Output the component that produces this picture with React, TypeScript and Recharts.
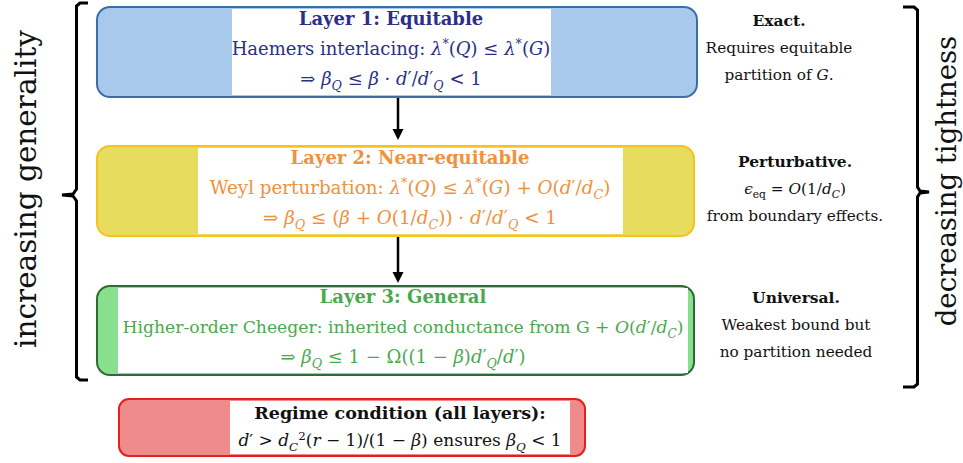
import React from "react";
import {
  ComposedChart,
  XAxis,
  YAxis,
  ReferenceArea,
  ReferenceLine,
  Scatter,
  Line,
} from "recharts";

// a segment is [text, style]: "" roman, "i" italic, "_" italic sub, "_r" roman sub, "^" sup
type Seg = [string, string?];

const W = 963;
const H = 463;
const SERIF = "DejaVu Serif, Liberation Serif, serif";

const layerNames = ["Layer 1: Equitable", "Layer 2: Near-equitable", "Layer 3: General"];
const layerInk = ["#2c2f86", "#f0913c", "#4ca84f"];
const layerFill = ["#a8c9eb", "#e7dc5e", "#88e08e"];
const layerEdge = ["#3c6ea6", "#f6c21c", "#2f6a30"];
const layerTop = [7, 146, 286];
const layerBottom = [97, 236, 375];
const layerLeft = [97, 97, 97];
const layerRight = [697, 694, 694];
const panelLeft = [232, 198, 118];
const panelRight = [551, 623, 688];

const layerLines: Seg[][][] = [
  [
    [["Haemers interlacing: "], ["λ", "i"], ["*", "^"], ["("], ["Q", "i"], [") ≤ "], ["λ", "i"], ["*", "^"], ["("], ["G", "i"], [")"]],
    [["⇒ "], ["β", "i"], ["Q", "_"], [" ≤ "], ["β", "i"], [" · "], ["d", "i"], ["′/"], ["d", "i"], ["′"], ["Q", "_"], [" < 1"]],
  ],
  [
    [["Weyl perturbation: "], ["λ", "i"], ["*", "^"], ["("], ["Q", "i"], [") ≤ "], ["λ", "i"], ["*", "^"], ["("], ["G", "i"], [") + "], ["O", "i"], ["("], ["d", "i"], ["′/"], ["d", "i"], ["C", "_"], [")"]],
    [["⇒ "], ["β", "i"], ["Q", "_"], [" ≤ ("], ["β", "i"], [" + "], ["O", "i"], ["(1/"], ["d", "i"], ["C", "_"], [")) · "], ["d", "i"], ["′/"], ["d", "i"], ["′"], ["Q", "_"], [" < 1"]],
  ],
  [
    [["Higher-order Cheeger: inherited conductance from G + "], ["O", "i"], ["("], ["d", "i"], ["′/"], ["d", "i"], ["C", "_"], [")"]],
    [["⇒ "], ["β", "i"], ["Q", "_"], [" ≤ 1 − Ω((1 − "], ["β", "i"], [")"], ["d", "i"], ["′"], ["Q", "_"], ["/"], ["d", "i"], ["′)"]],
  ],
];
const layerLineSize = [
  [18, 18],
  [18.3, 18.3],
  [17.2, 18],
];
const layerTextX = [391, 410, 403];
const layerTextY = [25, 164, 303];

const regimeTitle = "Regime condition (all layers):";
const regimeLine: Seg[] = [["d", "i"], ["′ > "], ["d", "i"], ["C", "_"], ["2", "^"], ["("], ["r", "i"], [" − 1)/(1 − "], ["β", "i"], [") ensures "], ["β", "i"], ["Q", "_"], [" < 1"]];
const regimeBox = { x1: 119, x2: 585, y1: 399, y2: 456 };
const regimePanel = { x1: 230, x2: 570 };

const noteTitles = ["Exact.", "Perturbative.", "Universal."];
const noteLines: Seg[][][] = [
  [[["Requires equitable"]], [["partition of "], ["G", "i"], ["."]]],
  [[["ϵ", "i"], ["eq", "_r"], [" = "], ["O", "i"], ["(1/"], ["d", "i"], ["C", "_"], [")"]], [["from boundary effects."]]],
  [[["Weakest bound but"]], [["no partition needed"]]],
];
const noteX = [779, 795, 796];
const noteY = [26, 167, 303];

const arrowX = [398, 398];
const arrowFrom = [98, 237];
const arrowTo = [140, 283];

const leftBrace = [
  { x: 88, y: 3 }, { x: 80, y: 3 }, { x: 76.5, y: 6 }, { x: 76.5, y: 189 }, { x: 73, y: 194 },
  { x: 62, y: 195 }, { x: 73, y: 196 }, { x: 76.5, y: 201 }, { x: 76.5, y: 377 }, { x: 80, y: 380 }, { x: 88, y: 380 },
];
const rightBrace = [
  { x: 903, y: 7 }, { x: 914, y: 7 }, { x: 917.5, y: 10 }, { x: 917.5, y: 187 }, { x: 920, y: 191 },
  { x: 929, y: 192 }, { x: 920, y: 193 }, { x: 917.5, y: 197 }, { x: 917.5, y: 384 }, { x: 914, y: 387 }, { x: 903, y: 387 },
];
const sideLabels = ["increasing generality", "decreasing tightness"];
const sideX = [26, 946];
const sideY = [189, 181];
const sideSize = [29.5, 27.5];

function Rich({ x, y, segs, fs, fill, anchor = "middle" }: { x: number; y: number; segs: Seg[]; fs: number; fill: string; anchor?: string }) {
  let shift = 0;
  return (
    <text x={x} y={y} fontSize={fs} fill={fill} textAnchor={anchor} style={{ fontFamily: SERIF }}>
      {segs.map(([t, s = ""], k) => {
        const small = s === "_" || s === "_r" || s === "^";
        const target = s === "_" || s === "_r" ? fs * 0.28 : s === "^" ? -fs * 0.38 : 0;
        const dy = target - shift;
        shift = target;
        return (
          <tspan
            key={k}
            dy={dy}
            fontSize={small ? fs * 0.7 : fs}
            fontStyle={s === "i" || s === "_" ? "italic" : "normal"}
          >
            {t}
          </tspan>
        );
      })}
    </text>
  );
}

const roundBox = (fill: string, stroke: string, r: number) => (p: any) => (
  <rect x={p.x} y={p.y} width={p.width} height={p.height} rx={r} ry={r} fill={fill} stroke={stroke} strokeWidth={2} />
);

const layerText = layerNames.map((name, i) => ({ x: layerTextX[i], y: layerTextY[i], i }));
const noteText = noteTitles.map((t, i) => ({ x: noteX[i], y: noteY[i], i }));
const sideText = sideLabels.map((t, i) => ({ x: sideX[i], y: sideY[i], i }));
const arrowTips = arrowX.map((x, i) => ({ x, y: arrowTo[i] }));

export default function App() {
  return (
    <div style={{ position: "absolute", left: 0, top: 0, width: W, height: H, background: "#fff" }}>
      <ComposedChart width={W} height={H} margin={{ top: 0, right: 0, bottom: 0, left: 0 }}>
        <XAxis type="number" dataKey="x" domain={[0, W]} hide allowDataOverflow />
        <YAxis type="number" dataKey="y" domain={[0, H]} reversed hide allowDataOverflow />

        {layerNames.map((n, i) => (
          <ReferenceArea
            key={"box" + i}
            x1={layerLeft[i]}
            x2={layerRight[i]}
            y1={layerTop[i]}
            y2={layerBottom[i]}
            shape={roundBox(layerFill[i], layerEdge[i], 13)}
          />
        ))}
        {layerNames.map((n, i) => (
          <ReferenceArea
            key={"panel" + i}
            x1={panelLeft[i]}
            x2={panelRight[i]}
            y1={layerTop[i] + 2}
            y2={layerBottom[i] - 2}
            fill="#fff"
            fillOpacity={1}
            stroke="none"
          />
        ))}
        <ReferenceArea {...regimeBox} shape={roundBox("#f08b8b", "#e61e1e", 10)} />
        <ReferenceArea x1={regimePanel.x1} x2={regimePanel.x2} y1={regimeBox.y1 + 2} y2={regimeBox.y2 - 2} fill="#fff" fillOpacity={1} stroke="none" />

        {arrowX.map((x, i) => (
          <ReferenceLine
            key={"shaft" + i}
            segment={[{ x, y: arrowFrom[i] }, { x, y: arrowTo[i] - 8 }]}
            stroke="#000"
            strokeWidth={2.5}
          />
        ))}
        <Scatter
          data={arrowTips}
          dataKey="y"
          isAnimationActive={false}
          shape={(p: any) => (
            <path d={`M${p.cx},${p.cy} L${p.cx - 5.5},${p.cy - 11} L${p.cx + 5.5},${p.cy - 11} Z`} fill="#000" />
          )}
        />

        <Line data={leftBrace} dataKey="y" type="linear" stroke="#000" strokeWidth={3} dot={false} isAnimationActive={false} />
        <Line data={rightBrace} dataKey="y" type="linear" stroke="#000" strokeWidth={3} dot={false} isAnimationActive={false} />

        <Scatter
          data={layerText}
          dataKey="y"
          isAnimationActive={false}
          shape={(p: any) => {
            const i = p.payload.i;
            return (
              <g>
                <text x={p.cx} y={p.cy} textAnchor="middle" style={{ fontFamily: SERIF }} fontWeight="bold" fontSize={18} fill={layerInk[i]}>
                  {layerNames[i]}
                </text>
                {layerLines[i].map((segs, k) => (
                  <Rich key={k} x={p.cx} y={p.cy + 30 * (k + 1)} segs={segs} fs={layerLineSize[i][k]} fill={layerInk[i]} />
                ))}
              </g>
            );
          }}
        />

        <Scatter
          data={[{ x: (regimePanel.x1 + regimePanel.x2) / 2, y: 419 }]}
          dataKey="y"
          isAnimationActive={false}
          shape={(p: any) => (
            <g>
              <text x={p.cx} y={p.cy} textAnchor="middle" style={{ fontFamily: SERIF }} fontWeight="bold" fontSize={17.5} fill="#111">
                {regimeTitle}
              </text>
              <Rich x={p.cx} y={p.cy + 27} segs={regimeLine} fs={17} fill="#111" />
            </g>
          )}
        />

        <Scatter
          data={noteText}
          dataKey="y"
          isAnimationActive={false}
          shape={(p: any) => {
            const i = p.payload.i;
            return (
              <g>
                <text x={p.cx} y={p.cy} textAnchor="middle" style={{ fontFamily: SERIF }} fontWeight="bold" fontSize={15.5} fill="#111">
                  {noteTitles[i]}
                </text>
                {noteLines[i].map((segs, k) => (
                  <Rich key={k} x={p.cx} y={p.cy + 27 * (k + 1)} segs={segs} fs={15.3} fill="#111" />
                ))}
              </g>
            );
          }}
        />

        <Scatter
          data={sideText}
          dataKey="y"
          isAnimationActive={false}
          shape={(p: any) => (
            <text
              x={p.cx}
              y={p.cy}
              transform={`rotate(-90 ${p.cx} ${p.cy})`}
              textAnchor="middle"
              dominantBaseline="central"
              style={{ fontFamily: SERIF }}
              fontSize={sideSize[p.payload.i]}
              fill="#111"
            >
              {sideLabels[p.payload.i]}
            </text>
          )}
        />
      </ComposedChart>
    </div>
  );
}
